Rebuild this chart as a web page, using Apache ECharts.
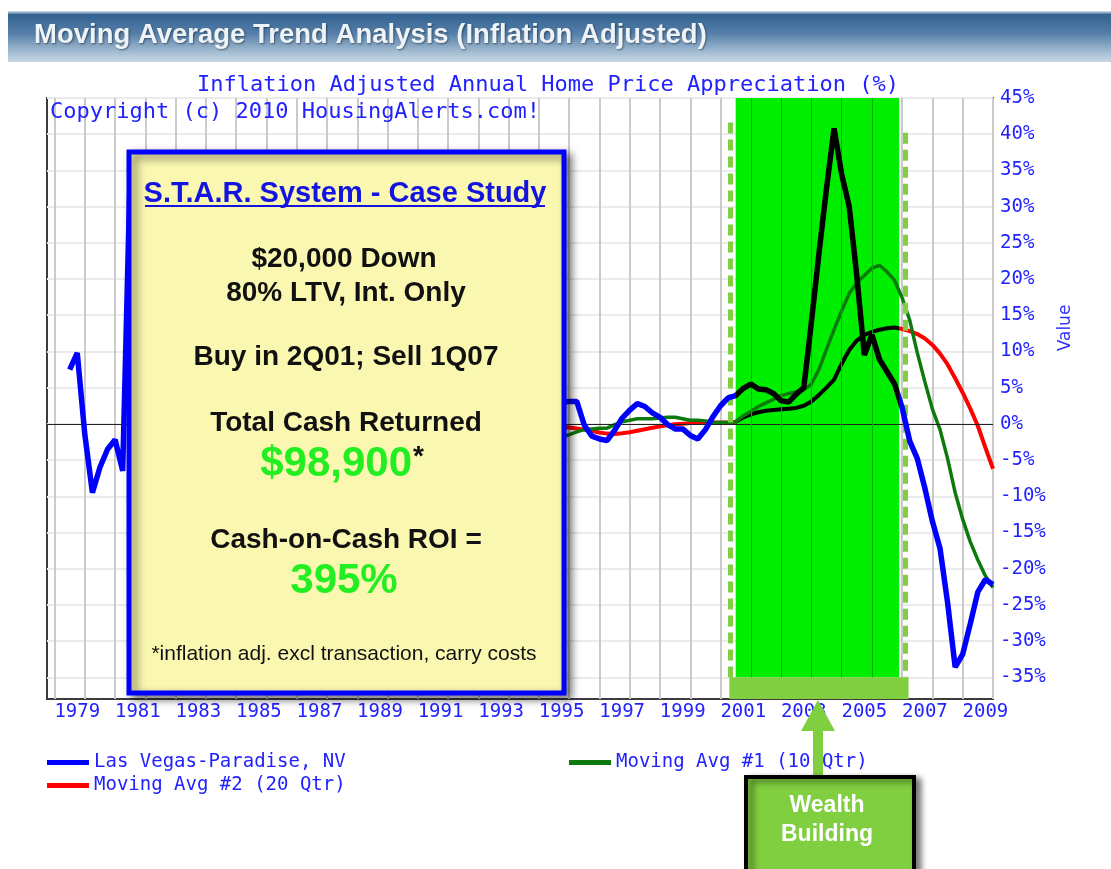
<!DOCTYPE html>
<html>
<head>
<meta charset="utf-8">
<title>Moving Average Trend Analysis</title>
<script src="https://cdn.jsdelivr.net/npm/echarts@6/dist/echarts.min.js"></script>
<style>
    html, body { margin: 0; padding: 0; background: #fff; }
    #chart { width: 1111px; height: 869px; }
</style>
</head>
<body>
<div id="chart"></div>
<script>
// quarterly series, index 0 = 1Q1978
const START_YEAR = 1978;

// Las Vegas-Paradise, NV (starts 4Q1978), one row per year
const lasVegasStart = 3;
const lasVegas = [
    7.5,
    9.8, -1.5, -9.5, -6.0,
    -3.5, -2.2, -6.5, 35,
    28, 18, 8, 0,
    -6, -9, -8, -6,
    -5, -4, -4, -3,
    -3, -2, -2, -1,
    -1, 0, 0, -1,
    -2, -3, -3, -2,
    -1, 0, 1, 1,
    0, -1, 0, 2,
    3, 5, 7, 9,
    10, 10, 9, 7,
    5, 3, 1, -1,
    -2, -3, -3, -3,
    -2, -1, 0, 1,
    2, 3, 3, 2.5,
    3.0, 3.1, 3.1, -0.2,
    -1.7, -2.1, -2.3, -0.9,
    0.8, 1.9, 2.8, 2.4,
    1.5, 0.9, -0.1, -0.7,
    -0.7, -1.6, -2.1, -0.8,
    1.0, 2.5, 3.6, 3.9,
    4.9, 5.5, 4.8, 4.7,
    4.2, 3.2, 3.0, 4.1,
    5.0, 14.0, 23.5, 32.5,
    40.8, 34.5, 30.0, 20.5,
    9.5, 12.3, 8.9, 7.2,
    5.5, 2.2, -2.4, -4.8,
    -8.9, -13.5, -17.2, -24.7,
    -33.6, -31.8, -27.6, -23.2,
    -21.5, -22.2
];

// moving averages (start 3Q1994)
const avgStart = 66;
const movingAvg1 = [
    -2.2, -2.0,
    -1.8, -1.5, -1.1, -0.8,
    -0.7, -0.6, -0.6, -0.1,
    0.3, 0.5, 0.7, 0.7,
    0.7, 0.8, 0.9, 0.9,
    0.7, 0.5, 0.5, 0.4,
    0.2, 0.2, 0.2, 0.3,
    1.1, 1.7, 2.4, 2.9,
    3.4, 3.9, 4.2, 4.4,
    4.7, 5.5, 7.5, 10.3,
    13.0, 15.6, 18.0, 19.5,
    20.5, 21.5, 21.9, 21.0,
    19.8, 17.4, 14.3, 9.8,
    5.8, 2.0, -0.8, -4.8,
    -9.5, -13.2, -16.3, -18.8,
    -21.0, -22.6
];
const movingAvg2 = [
    -0.3, -0.4,
    -0.45, -0.5, -0.65, -0.8,
    -1.0, -1.2, -1.35, -1.4,
    -1.3, -1.15, -0.95, -0.75,
    -0.55, -0.35, -0.2, -0.05,
    0.0, 0.1, 0.15, 0.2,
    0.2, 0.2, 0.2, 0.3,
    0.9, 1.3, 1.6, 1.8,
    1.9, 2.0, 2.1, 2.2,
    2.5, 3.1, 4.0, 5.0,
    6.1, 8.3, 10.2, 11.5,
    12.3, 12.7, 13.0, 13.2,
    13.3, 13.1, 12.8, 12.4,
    11.8, 10.9, 9.7, 8.2,
    6.3, 4.3, 2.1, -0.3,
    -3.3, -6.2
];

// axis ticks
const yearLabels = [1979, 1981, 1983, 1985, 1987, 1989, 1991, 1993, 1995, 1997, 1999, 2001, 2003, 2005, 2007, 2009];
const valueTicks = [-35, -30, -25, -20, -15, -10, -5, 0, 5, 10, 15, 20, 25, 30, 35, 40, 45];
const yearGrid = [];
for (let y = 1978.25; y <= 2009.25; y++) {
    yearGrid.push(y);
}

// wealth building window (buy 2Q01, sell 1Q07)
const wealthBand = [2000.75, 2006.15];
const bandEdges = [[2000.58, 41.6], [2006.35, 40.2]];

const BLUE = '#0000ff';
const LABEL_BLUE = '#2222ff';
const MONO = "'DejaVu Sans Mono', 'Liberation Mono', monospace";
const SANS = "'Liberation Sans', Arial, sans-serif";

const toPairs = (arr, start) => arr.map((v, i) => [START_YEAR + (start + i) * 0.25, v]);

const bandPieces = (color) => [
    { lt: wealthBand[0], color: color },
    { gte: wealthBand[0], lte: wealthBand[1], color: '#000000' },
    { gt: wealthBand[1], color: color }
];

// band grid lines + dashed edges + zero line
const markLines = [
    { yAxis: 0, lineStyle: { color: '#222', width: 1, type: 'solid' } }
];
yearGrid.filter(y => y > wealthBand[0] && y < wealthBand[1]).forEach(y => {
    markLines.push([
        { coord: [y, 45], lineStyle: { color: '#00b000', width: 1, type: 'solid' } },
        { coord: [y, -35] }
    ]);
});
bandEdges.forEach(e => {
    markLines.push([
        { coord: [e[0], e[1]], lineStyle: { color: '#80cf40', width: 5, type: [11, 6] } },
        { coord: [e[0], -35] }
    ]);
});

const boxText = (text, x, y, font, fill, align) => ({
    type: 'text', x: x, y: y, z: 22,
    style: {
        text: text, font: font, fill: fill,
        textAlign: align || 'center', textVerticalAlign: 'middle'
    }
});

const chart = echarts.init(document.getElementById('chart'));

const option = {
    animation: false,
    backgroundColor: '#ffffff',
    title: [
        {
            text: 'Moving Average Trend Analysis (Inflation Adjusted)',
            left: 34, top: 22, padding: 0,
            textStyle: {
                color: '#eef3f8', fontFamily: SANS, fontSize: 27.5, fontWeight: 'bold', lineHeight: 27,
                textShadowColor: 'rgba(0,0,0,0.45)', textShadowBlur: 2, textShadowOffsetX: 1, textShadowOffsetY: 1
            }
        },
        {
            text: 'Inflation Adjusted Annual Home Price Appreciation (%)',
            left: 197, top: 74, padding: 0,
            textStyle: { color: LABEL_BLUE, fontFamily: MONO, fontSize: 22, fontWeight: 'normal', lineHeight: 22 }
        }
    ],
    legend: [
        {
            data: ['Las Vegas-Paradise, NV', 'Moving Avg #2 (20 Qtr)'],
            orient: 'vertical', left: 47, top: 753, padding: 0,
            icon: 'rect', itemWidth: 42, itemHeight: 5, itemGap: 4, selectedMode: false,
            textStyle: { color: LABEL_BLUE, fontFamily: MONO, fontSize: 19 }
        },
        {
            data: ['Moving Avg #1 (10 Qtr)'],
            orient: 'vertical', left: 569, top: 753, padding: 0,
            icon: 'rect', itemWidth: 42, itemHeight: 5, selectedMode: false,
            textStyle: { color: LABEL_BLUE, fontFamily: MONO, fontSize: 19 }
        }
    ],
    grid: {
        left: 47, right: 118, top: 98, bottom: 170,
        show: true, backgroundColor: '#ffffff', borderColor: '#3c3c3c', borderWidth: 2
    },
    xAxis: {
        type: 'value', min: 1978, max: 2009.25,
        axisLine: { show: false },
        axisTick: { show: false, customValues: yearGrid },
        axisLabel: {
            customValues: yearLabels, formatter: v => String(Math.round(v)),
            color: LABEL_BLUE, fontFamily: MONO, fontSize: 19, margin: 4
        },
        splitLine: { show: true, lineStyle: { color: '#cacaca', width: 2 } }
    },
    yAxis: {
        type: 'value', position: 'right', min: -38, max: 45,
        axisLine: { show: false },
        axisTick: { show: false, customValues: valueTicks },
        axisLabel: {
            customValues: valueTicks, formatter: v => v + '%',
            color: LABEL_BLUE, fontFamily: MONO, fontSize: 19, margin: 7
        },
        splitLine: { show: true, lineStyle: { color: '#ebebeb', width: 2 } }
    },
    visualMap: [
        { type: 'piecewise', show: false, seriesIndex: 4, dimension: 0, pieces: bandPieces(BLUE) },
        { type: 'piecewise', show: false, seriesIndex: 2, dimension: 0, pieces: bandPieces('#ff0000') }
    ],
    series: [
        {
            name: 'band', type: 'line', data: [], z: 1, silent: true,
            markArea: {
                silent: true,
                data: [
                    [{ coord: [wealthBand[0], 45], itemStyle: { color: '#00ee00' } }, { coord: [wealthBand[1], -35] }],
                    [{ coord: [2000.54, -35], itemStyle: { color: '#80cf40' } }, { coord: [2006.46, -38] }]
                ]
            }
        },
        {
            name: 'lines', type: 'line', data: [], z: 2, silent: true,
            markLine: { silent: true, symbol: 'none', label: { show: false }, data: markLines }
        },
        {
            name: 'Moving Avg #2 (20 Qtr)', type: 'line', z: 3,
            data: toPairs(movingAvg2, avgStart),
            showSymbol: false, symbol: 'none',
            itemStyle: { color: '#ff0000' },
            lineStyle: { width: 4 }
        },
        {
            name: 'Moving Avg #1 (10 Qtr)', type: 'line', z: 4,
            data: toPairs(movingAvg1, avgStart),
            showSymbol: false, symbol: 'none',
            itemStyle: { color: '#0c7a0c' },
            lineStyle: { color: '#0c7a0c', width: 3.5 }
        },
        {
            name: 'Las Vegas-Paradise, NV', type: 'line', z: 5,
            data: toPairs(lasVegas, lasVegasStart),
            showSymbol: false, symbol: 'none',
            itemStyle: { color: BLUE },
            lineStyle: { width: 5.5 }
        }
    ],
    graphic: [
        // header bar
        {
            type: 'rect', z: 0,
            shape: { x: 8, y: 11, width: 1103, height: 51 },
            style: {
                fill: {
                    type: 'linear', x: 0, y: 0, x2: 0, y2: 1,
                    colorStops: [
                        { offset: 0, color: '#dbe6ef' },
                        { offset: 0.07, color: '#33628f' },
                        { offset: 0.45, color: '#5680aa' },
                        { offset: 0.8, color: '#a3bcd2' },
                        { offset: 1, color: '#c6d6e4' }
                    ]
                }
            }
        },
        boxText('Copyright (c) 2010 HousingAlerts.com!', 50, 112, '22px ' + MONO, LABEL_BLUE, 'left'),
        {
            type: 'text', x: 1066, y: 328, rotation: Math.PI / 2, z: 22,
            style: { text: 'Value', font: "17px 'DejaVu Sans', sans-serif", fill: '#3333ff', textAlign: 'center', textVerticalAlign: 'middle' }
        },
        // case study box
        {
            type: 'rect', z: 20,
            shape: { x: 129, y: 152, width: 435, height: 541 },
            style: {
                fill: '#faf7b0', stroke: '#0000ff', lineWidth: 5,
                shadowBlur: 8, shadowOffsetX: 5, shadowOffsetY: 4, shadowColor: 'rgba(0,0,0,0.5)'
            }
        },
        boxText('S.T.A.R. System - Case Study', 345, 194, 'bold 29px ' + SANS, '#1414e0'),
        {
            type: 'line', z: 22,
            shape: { x1: 145, y1: 206, x2: 545, y2: 206 },
            style: { stroke: '#1414e0', lineWidth: 2 }
        },
        boxText('$20,000 Down', 344, 259, 'bold 28px ' + SANS, '#111'),
        boxText('80% LTV, Int. Only', 346, 293, 'bold 28px ' + SANS, '#111'),
        boxText('Buy in 2Q01; Sell 1Q07', 346, 357, 'bold 28px ' + SANS, '#111'),
        boxText('Total Cash Returned', 346, 423, 'bold 28px ' + SANS, '#111'),
        boxText('$98,900', 412, 464, 'bold 42px ' + SANS, '#22ee22', 'right'),
        boxText('*', 413, 457, 'bold 28px ' + SANS, '#111', 'left'),
        boxText('Cash-on-Cash ROI =', 346, 540, 'bold 28px ' + SANS, '#111'),
        boxText('395%', 344, 581, 'bold 42px ' + SANS, '#22ee22'),
        boxText('*inflation adj. excl transaction, carry costs', 344, 654, '21px ' + SANS, '#111'),
        // wealth building callout
        {
            type: 'polygon', z: 20,
            shape: { points: [[801, 731], [818, 700], [835, 731], [823, 731], [823, 778], [813, 778], [813, 731]] },
            style: { fill: '#80cf40' }
        },
        {
            type: 'rect', z: 20,
            shape: { x: 746, y: 777, width: 168, height: 100 },
            style: {
                fill: '#80cf40', stroke: '#000', lineWidth: 4,
                shadowBlur: 6, shadowOffsetX: 5, shadowOffsetY: 3, shadowColor: 'rgba(0,0,0,0.5)'
            }
        },
        {
            type: 'text', x: 827, y: 806, z: 22,
            style: {
                text: 'Wealth', font: 'bold 23px ' + SANS, fill: '#fff', textAlign: 'center', textVerticalAlign: 'middle',
                shadowColor: 'rgba(0,0,0,0.6)', shadowBlur: 2, shadowOffsetX: 1, shadowOffsetY: 1
            }
        },
        {
            type: 'text', x: 827, y: 835, z: 22,
            style: {
                text: 'Building', font: 'bold 23px ' + SANS, fill: '#fff', textAlign: 'center', textVerticalAlign: 'middle',
                shadowColor: 'rgba(0,0,0,0.6)', shadowBlur: 2, shadowOffsetX: 1, shadowOffsetY: 1
            }
        }
    ]
};

chart.setOption(option);
window.addEventListener('resize', function () {
    chart.resize();
});
</script>
</body>
</html>
